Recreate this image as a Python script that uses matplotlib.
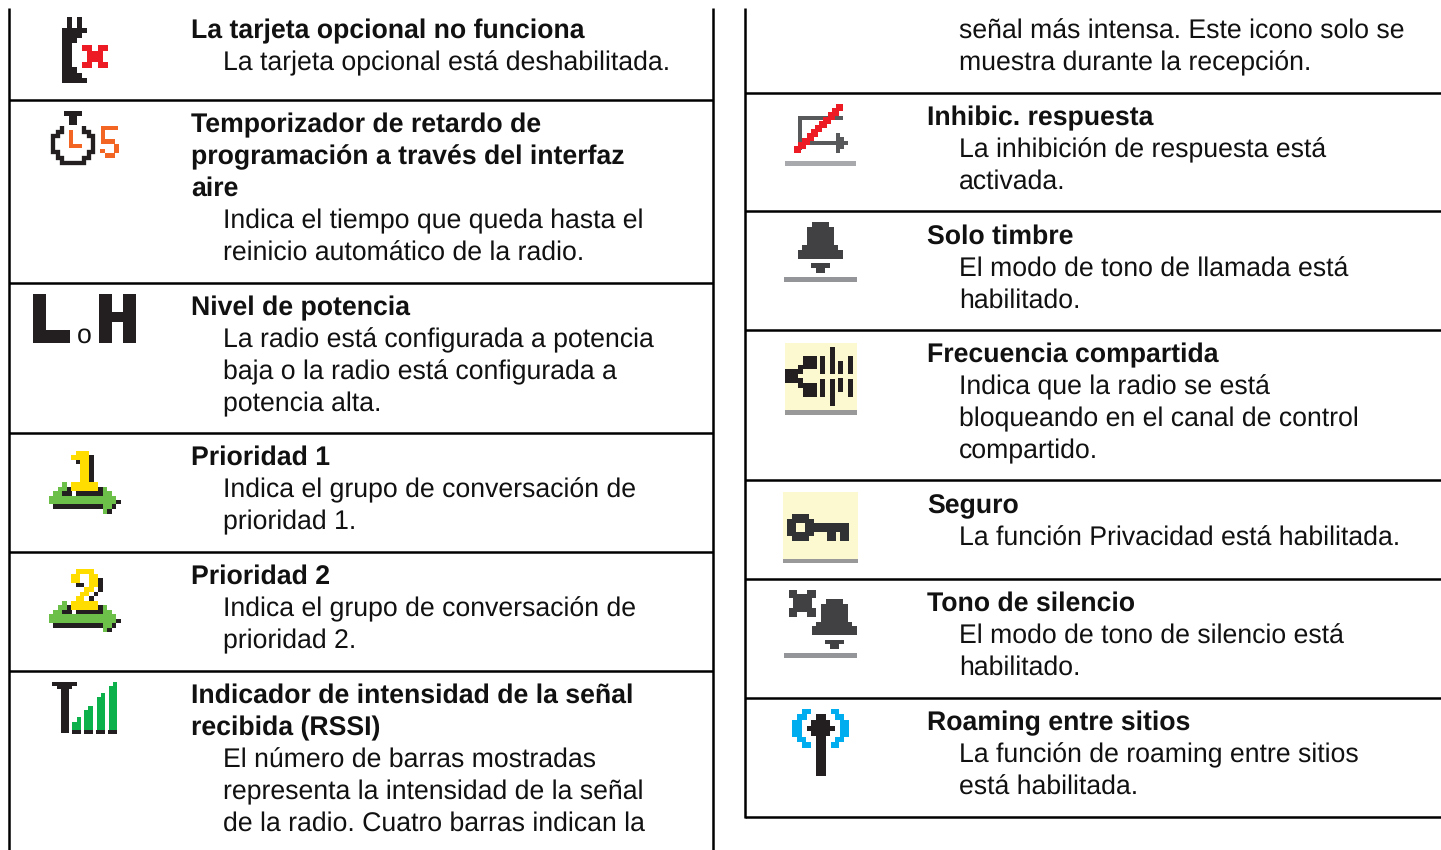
import matplotlib
matplotlib.use('Agg')
import matplotlib.pyplot as plt
from matplotlib.patches import Rectangle, Polygon

plt.rcParams['font.family'] = ['Liberation Sans', 'DejaVu Sans']
plt.rcParams['text.hinting'] = 'none'
plt.rcParams['text.hinting_factor'] = 8

# Texto de cada columna: (negrita?, linea)
izq_textos = [
    (True, 'La tarjeta opcional no funciona'),
    (False, 'La tarjeta opcional está deshabilitada.'),
    (True, 'Temporizador de retardo de'),
    (True, 'programación a través del interfaz'),
    (True, 'aire'),
    (False, 'Indica el tiempo que queda hasta el'),
    (False, 'reinicio automático de la radio.'),
    (True, 'Nivel de potencia'),
    (False, 'La radio está configurada a potencia'),
    (False, 'baja o la radio está configurada a'),
    (False, 'potencia alta.'),
    (True, 'Prioridad 1'),
    (False, 'Indica el grupo de conversación de'),
    (False, 'prioridad 1.'),
    (True, 'Prioridad 2'),
    (False, 'Indica el grupo de conversación de'),
    (False, 'prioridad 2.'),
    (True, 'Indicador de intensidad de la señal'),
    (True, 'recibida (RSSI)'),
    (False, 'El número de barras mostradas'),
    (False, 'representa la intensidad de la señal'),
    (False, 'de la radio. Cuatro barras indican la'),
]
izq_baselines = [38, 70, 132, 164, 196, 228, 261, 315, 347, 379, 411, 465, 497, 529,
                 584, 616, 648, 703, 735, 768, 799, 831]

der_textos = [
    (False, 'señal más intensa. Este icono solo se'),
    (False, 'muestra durante la recepción.'),
    (True, 'Inhibic. respuesta'),
    (False, 'La inhibición de respuesta está'),
    (False, 'activada.'),
    (True, 'Solo timbre'),
    (False, 'El modo de tono de llamada está'),
    (False, 'habilitado.'),
    (True, 'Frecuencia compartida'),
    (False, 'Indica que la radio se está'),
    (False, 'bloqueando en el canal de control'),
    (False, 'compartido.'),
    (True, 'Seguro'),
    (False, 'La función Privacidad está habilitada.'),
    (True, 'Tono de silencio'),
    (False, 'El modo de tono de silencio está'),
    (False, 'habilitado.'),
    (True, 'Roaming entre sitios'),
    (False, 'La función de roaming entre sitios'),
    (False, 'está habilitada.'),
]
der_baselines = [39, 70, 125, 157, 189, 244, 277, 308, 362, 394, 426, 458, 513, 546,
                 611, 644, 675, 730, 762, 795]

izq_reglas = [100, 283, 433, 552, 671]
der_reglas = [93, 211, 330, 480, 579, 698, 817]

NEGRO = '#231F20'
GRIS = '#414042'
ROJO = '#ED1C24'
NARANJA = '#F26522'
AMARILLO = '#FFDD00'
VERDE = '#6CC04A'
VERDE2 = '#0DB14B'
AZUL = '#00AEEF'
CREMA = '#FCF9D0'

fig = plt.figure(figsize=(14.41, 8.5), dpi=100)
ax = fig.add_axes([0, 0, 1, 1])
ax.set_xlim(0, 1441)
ax.set_ylim(850, 0)
ax.axis('off')


# Los iconos se leyeron de recortes a 3x, por eso se divide entre 3
def rects(lista, ox, oy, color):
    for x0, y0, x1, y1 in lista:
        ax.add_patch(Rectangle((ox + x0 / 3, oy + y0 / 3), (x1 - x0) / 3, (y1 - y0) / 3,
                               facecolor=color, edgecolor='none'))


def poly(puntos, ox, oy, color):
    ax.add_patch(Polygon([(ox + x / 3, oy + y / 3) for x, y in puntos],
                         closed=True, facecolor=color, edgecolor='none'))


def campana(ox, oy, dx=0, dy=0):
    poly([(127 + dx, 382 + dy), (178 + dx, 382 + dy), (178 + dx, 397 + dy), (193 + dx, 397 + dy),
          (193 + dx, 450 + dy), (205 + dx, 450 + dy), (205 + dx, 464 + dy), (220 + dx, 464 + dy),
          (220 + dx, 491 + dy), (84 + dx, 491 + dy), (84 + dx, 464 + dy), (97 + dx, 464 + dy),
          (97 + dx, 450 + dy), (112 + dx, 450 + dy), (112 + dx, 397 + dy), (127 + dx, 397 + dy)],
         ox, oy, GRIS)
    rects([(124 + dx, 505 + dy, 180 + dx, 518 + dy), (138 + dx, 518 + dy, 166 + dx, 533 + dy)], ox, oy, GRIS)


def flecha(ox, oy):
    rects([(100, 658, 250, 672), (262, 672, 275, 686), (275, 658, 288, 672), (288, 645, 302, 658),
           (140, 605, 155, 632), (127, 618, 155, 632), (168, 618, 248, 632), (235, 605, 248, 618)],
          ox, oy, NEGRO)
    poly([(87, 632), (100, 632), (100, 618), (113, 618), (113, 605), (127, 605), (127, 592), (140, 592),
          (140, 618), (127, 618), (127, 632), (250, 632), (250, 605), (262, 605), (262, 618), (275, 618),
          (275, 632), (288, 632), (288, 658), (275, 658), (275, 672), (262, 672), (262, 686), (250, 686),
          (250, 658), (87, 658)], ox, oy, VERDE)


# Reglas de la tabla
ax.plot([9, 9], [8, 850], color='black', lw=1.8, solid_capstyle='butt')
ax.plot([713, 713], [8, 850], color='black', lw=1.8, solid_capstyle='butt')
ax.plot([745, 745], [8, 818], color='black', lw=1.8, solid_capstyle='butt')
for y in izq_reglas:
    ax.plot([9, 713], [y, y], color='black', lw=1.8, solid_capstyle='butt')
for y in der_reglas:
    ax.plot([745, 1441], [y, y], color='black', lw=1.8, solid_capstyle='butt')

# Texto
for (negrita, linea), y in zip(izq_textos, izq_baselines):
    ax.text(191 if negrita else 223, y, linea, fontsize=19.15, va='baseline', ha='left',
            fontweight='bold' if negrita else 'normal', color='#111111')
for (negrita, linea), y in zip(der_textos, der_baselines):
    ax.text(927 if negrita else 959, y, linea, fontsize=19.15, va='baseline', ha='left',
            fontweight='bold' if negrita else 'normal', color='#111111')

# Tarjeta opcional
poly([(140, 52), (155, 52), (155, 85), (170, 85), (170, 52), (187, 52), (187, 85), (202, 85), (202, 100),
      (187, 100), (187, 115), (170, 115), (170, 130), (155, 130), (155, 200), (170, 200), (170, 218),
      (187, 218), (187, 235), (202, 235), (202, 250), (125, 250), (125, 85), (140, 85)], 20, 0, NEGRO)
rects([(187, 135, 217, 152), (233, 135, 263, 152), (202, 152, 248, 186), (187, 186, 217, 203),
       (233, 186, 263, 203)], 20, 0, ROJO)

# Temporizador
rects([(133, 333, 187, 348), (148, 348, 172, 375)], 20, 0, NEGRO)
aro = [(127, 378), (127, 395), (113, 395), (113, 407), (100, 407), (100, 455), (113, 455), (113, 473),
       (127, 473), (127, 490), (193, 490), (193, 473), (207, 473), (207, 455), (220, 455), (220, 407),
       (207, 407), (207, 395), (193, 395), (193, 378)]
ax.plot([20 + x / 3 for x, y in aro], [y / 3 for x, y in aro], color=NEGRO, lw=3.1,
        solid_joinstyle='miter', solid_capstyle='butt')
rects([(148, 390, 160, 445), (148, 432, 187, 445), (242, 377, 295, 390), (242, 390, 255, 420),
       (242, 418, 285, 432), (283, 432, 297, 460), (240, 448, 255, 460), (255, 460, 285, 473)], 20, 0, NARANJA)

# L o H
rects([(38, 27, 78, 173), (38, 135, 150, 173), (237, 27, 275, 173), (310, 27, 348, 173), (275, 80, 310, 110)],
      20, 285, NEGRO)
ax.text(84, 343, 'o', fontsize=19.15, ha='center', va='baseline', color='#111111')

# Prioridad 1
flecha(20, 285)
rects([(207, 510, 222, 592), (168, 524, 180, 538)], 20, 285, NEGRO)
rects([(167, 497, 207, 510), (153, 510, 207, 524), (180, 524, 207, 592), (153, 592, 235, 618)], 20, 285, AMARILLO)

# Prioridad 2
flecha(20, 285 + 118.7)
rects([(167, 68, 193, 82), (235, 55, 248, 95), (222, 95, 235, 108), (207, 108, 222, 122)], 20, 560, NEGRO)
rects([(167, 28, 222, 42), (153, 42, 180, 68), (207, 42, 235, 82), (193, 82, 222, 95), (180, 95, 207, 108),
       (167, 108, 193, 122), (153, 122, 235, 150)], 20, 560, AMARILLO)

# RSSI
rects([(97, 365, 170, 377), (112, 377, 155, 388), (122, 388, 147, 520),
       (156, 510, 183, 522), (192, 510, 219, 522), (228, 510, 255, 522), (264, 510, 291, 522)], 20, 560, NEGRO)
rects([(157, 485, 182, 510), (170, 472, 182, 485), (193, 450, 218, 510), (205, 437, 218, 450),
       (230, 412, 254, 510), (242, 400, 254, 412), (266, 378, 290, 510), (278, 365, 290, 378)], 20, 560, VERDE2)

# Inhibic. respuesta
rects([(84, 64, 220, 75), (84, 64, 97, 165), (97, 138, 197, 150), (197, 113, 210, 175), (210, 126, 222, 163),
       (222, 138, 233, 150)], 770, 95, '#58595B')
rects([(72 + i * 12.6, 153 - i * 12.6, 94 + i * 12.6, 175 - i * 12.6) for i in range(11)], 770, 95, ROJO)
rects([(45, 198, 258, 213)], 770, 95, '#A7A9AC')

# Solo timbre
campana(770, 95)
rects([(42, 546, 260, 560)], 770, 95, '#939598')

# Frecuencia compartida
rects([(45, 24, 261, 225)], 770, 335, CREMA)
rects([(45, 225, 261, 240)], 770, 335, '#999999')
rects([(45, 103, 85, 144), (85, 90, 100, 117), (85, 130, 100, 158), (100, 63, 142, 103), (100, 144, 142, 185),
       (150, 63, 165, 117), (150, 132, 165, 185), (180, 36, 195, 117), (180, 132, 195, 212), (205, 78, 219, 117),
       (205, 130, 219, 170), (234, 63, 249, 117), (234, 132, 249, 185)], 770, 335, NEGRO)

# Seguro
rects([(39, 472, 264, 672)], 770, 335, CREMA)
rects([(39, 672, 264, 684)], 770, 335, '#999999')
rects([(51, 552, 132, 603), (66, 538, 117, 618), (132, 564, 238, 590), (171, 590, 197, 618),
       (211, 590, 238, 618)], 770, 335, '#2F3133')
rects([(78, 563, 105, 590)], 770, 335, CREMA)

# Tono de silencio
rects([(57, 30, 82, 55), (112, 30, 137, 55), (70, 43, 125, 97), (57, 85, 82, 112), (112, 85, 137, 112)],
      770, 580, GRIS)
campana(770, 580, dx=41, dy=-325)
rects([(42, 219, 260, 233)], 770, 580, '#939598')

# Roaming entre sitios
rects([(138, 403, 167, 587), (124, 420, 180, 440), (110, 437, 194, 453), (124, 453, 180, 467)], 770, 580, NEGRO)
corchete = [(96, 387, 122, 402), (81, 402, 110, 420), (66, 420, 95, 470), (81, 470, 108, 487), (96, 487, 122, 503)]
rects(corchete, 770, 580, AZUL)
rects([(304 - x1, y0, 304 - x0, y1) for x0, y0, x1, y1 in corchete], 770, 580, AZUL)

fig.savefig('out.png', dpi=100, facecolor='white')
